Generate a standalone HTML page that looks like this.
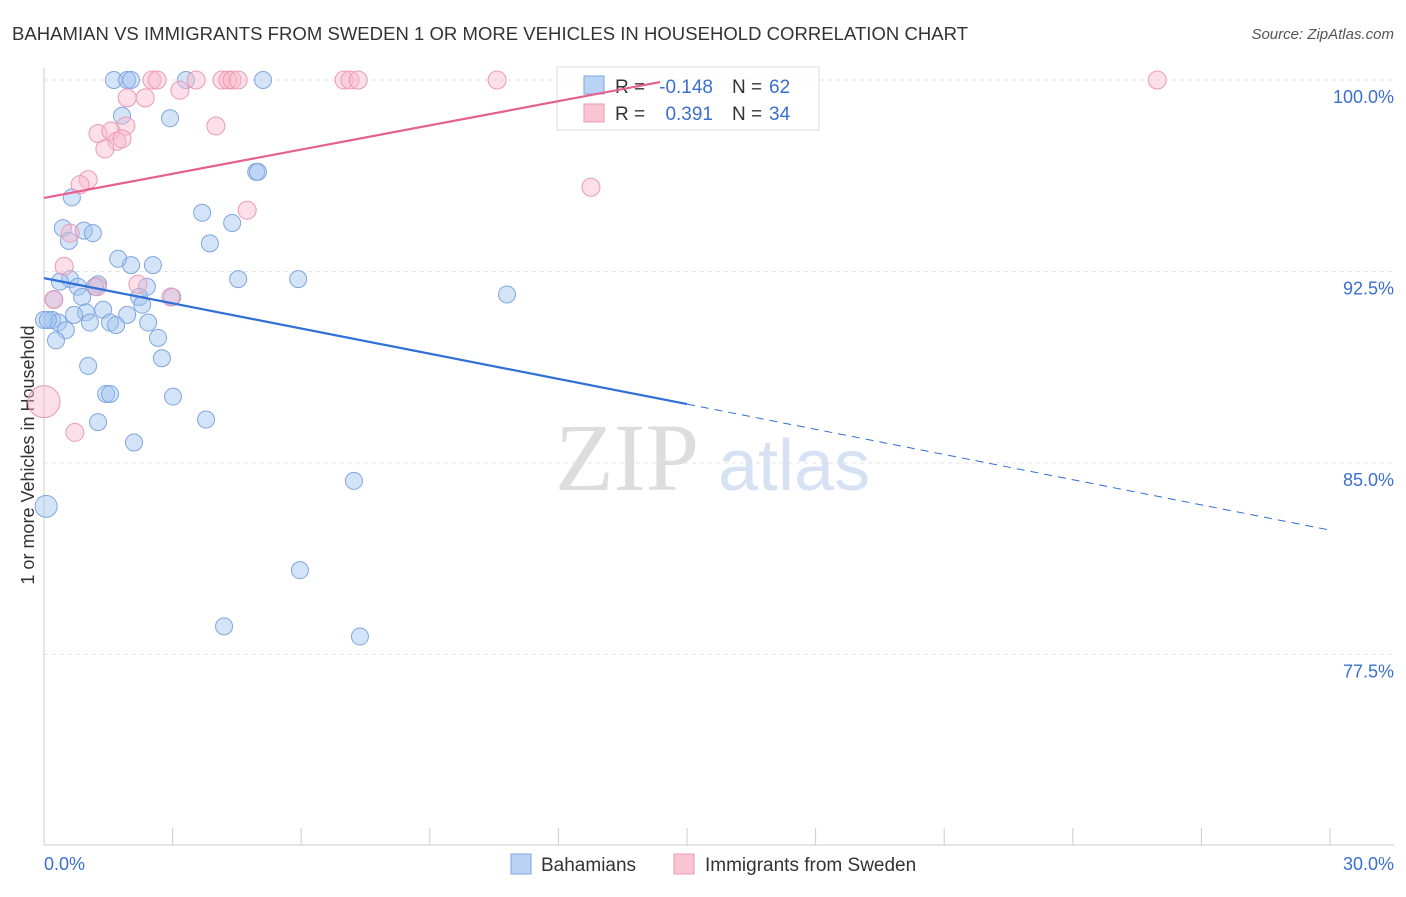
<!DOCTYPE html>
<html><head><meta charset="utf-8"><style>
body{margin:0;background:#fff;font-family:"Liberation Sans",sans-serif}
</style></head><body>
<svg id="c" width="1406" height="892" xmlns="http://www.w3.org/2000/svg">
<text x="12" y="40" font-size="18.5" fill="#333" textLength="956">BAHAMIAN VS IMMIGRANTS FROM SWEDEN 1 OR MORE VEHICLES IN HOUSEHOLD CORRELATION CHART</text>
<text x="1394" y="39" font-size="15" fill="#555" font-style="italic" text-anchor="end">Source: ZipAtlas.com</text>
<text x="555" y="490" font-size="96" fill="#ddd" font-family="Liberation Serif">ZIP</text>
<text x="718" y="490" font-size="72" fill="#d6e2f3">atlas</text>
<text transform="translate(34,455) rotate(-90)" font-size="18" fill="#333" text-anchor="middle">1 or more Vehicles in Household</text>
<g id="grid"></g>
<g>
<rect x="557" y="67" width="262" height="63" fill="#fff" fill-opacity="0.6" stroke="#ddd"/>
<rect x="584" y="76" width="20" height="18" fill="#b9d3f5" stroke="#7ea6e0"/>
<rect x="584" y="104" width="20" height="18" fill="#f9c5d3" stroke="#eb9ab2"/>
<text x="615" y="93" font-size="19" fill="#333">R =</text>
<text x="713" y="93" font-size="19" fill="#3a6fd1" text-anchor="end">-0.148</text>
<text x="732" y="93" font-size="19" fill="#333">N =</text>
<text x="769" y="93" font-size="19" fill="#3a6fd1">62</text>
<text x="615" y="120" font-size="19" fill="#333">R =</text>
<text x="713" y="120" font-size="19" fill="#3a6fd1" text-anchor="end">0.391</text>
<text x="732" y="120" font-size="19" fill="#333">N =</text>
<text x="769" y="120" font-size="19" fill="#3a6fd1">34</text>
</g>
<g id="marks"></g>
<g>
<rect x="511" y="854" width="20" height="20" fill="#b9d3f5" stroke="#7ea6e0"/>
<text x="541" y="871" font-size="19" fill="#333">Bahamians</text>
<rect x="674" y="854" width="20" height="20" fill="#f9c5d3" stroke="#eb9ab2"/>
<text x="705" y="871" font-size="19" fill="#333">Immigrants from Sweden</text>
</g>
</svg>
<script>
const yTicks=[100,92.5,85,77.5];
const xTickLabels=["0.0%","30.0%"];
const blueX=[1.63,1.94,2.03,3.31,5.11,1.82,2.94,4.95,4.99,0.65,3.69,4.39,0.44,0.93,1.14,0.58,3.87,1.73,2.03,2.54,4.53,5.93,0.61,0.37,0.79,1.26,1.19,2.40,0.89,2.22,2.99,0.23,2.29,1.38,0.98,0.70,1.94,0.19,0.33,1.07,1.54,1.68,2.43,0.51,0.28,2.66,2.75,1.03,10.80,1.45,1.54,3.01,1.26,3.78,2.10,7.23,0.05,5.97,4.20,7.37,0.0,0.09];
const blueY=[100,100,100,100,100,98.6,98.5,96.4,96.4,95.4,94.8,94.4,94.2,94.1,94.0,93.7,93.6,93.0,92.75,92.75,92.2,92.2,92.2,92.1,91.9,92.0,91.9,91.9,91.5,91.5,91.5,91.4,91.2,91.0,90.9,90.8,90.8,90.6,90.5,90.5,90.5,90.4,90.5,90.2,89.8,89.9,89.1,88.8,91.6,87.7,87.7,87.6,86.6,86.7,85.8,84.3,83.3,80.8,78.6,78.2,90.6,90.6];
const pinkX=[2.52,2.64,3.55,4.15,4.29,4.39,4.53,7.00,7.14,7.33,10.57,25.97,3.17,1.94,2.36,1.91,4.01,1.26,1.56,1.70,1.82,1.42,1.03,0.84,12.76,4.74,0.61,0.47,0.23,1.24,2.19,2.96,0.72,0.0];
const pinkY=[100,100,100,100,100,100,100,100,100,100,100,100,99.6,99.3,99.3,98.2,98.2,97.9,98.0,97.6,97.7,97.3,96.1,95.9,95.8,94.9,94.0,92.7,91.4,91.9,92.0,91.5,86.2,87.4];
const pinkR=[9,9,9,9,9,9,9,9,9,9,9,9,9,9,9,9,9,9,9,9,9,9,9,9,9,9,9,9,9,9,9,9,9,16];
const blueTrend=[92.24,82.37];
const pinkTrend=[95.38,99.92,14.37];
const X=v=>44+v/30*1286, Y=v=>80+(100-v)*25.53;
const ns="http://www.w3.org/2000/svg";
function mk(t,a,p){const e=document.createElementNS(ns,t);for(const k in a)e.setAttribute(k,a[k]);(p||document.getElementById('marks')).appendChild(e);return e;}
const g=document.getElementById('grid');
yTicks.forEach(v=>{const l=mk('line',{x1:44,x2:1394,y1:Y(v),y2:Y(v),stroke:'#e3e3e3','stroke-dasharray':'4,4'},g);

const t=mk('text',{x:1394,y:Y(v)+23,'font-size':18,fill:'#3a6fd1','text-anchor':'end'},g);t.textContent=v.toFixed(1)+'%';
});
const ax=mk('line',{x1:44,x2:1394,y1:845,y2:845,stroke:'#ccc'},g);
const ay=mk('line',{x1:44,x2:44,y1:68,y2:845,stroke:'#ccc'},g);
for(let i=0;i<=10;i++){const l=mk('line',{x1:X(i*3),x2:X(i*3),y1:828,y2:845,stroke:'#ccc'},g);}
[[0,'start',44],[30,'end',1394]].forEach((d,i)=>{const t=mk('text',{x:d[2],y:870,'font-size':18,fill:'#3a6fd1','text-anchor':d[1]},g);t.textContent=xTickLabels[i];});
blueX.forEach((x,i)=>{const c=mk('circle',{cx:X(x),cy:Y(blueY[i]),r:i==56?11:8.5,fill:'rgba(160,195,240,0.45)',stroke:'#7ea6e0','stroke-width':1});});
pinkX.forEach((x,i)=>{const c=mk('circle',{cx:X(x),cy:Y(pinkY[i]),r:pinkR[i],fill:'rgba(248,185,205,0.45)',stroke:'#eb9ab2','stroke-width':1});});
const bm=blueTrend[0]+(blueTrend[1]-blueTrend[0])*15/30;
let l=mk('line',{x1:X(0),y1:Y(blueTrend[0]),x2:X(15),y2:Y(bm),stroke:'#2f6fd6','stroke-width':2.2});
l=mk('line',{x1:X(15),y1:Y(bm),x2:X(30),y2:Y(blueTrend[1]),stroke:'#2f6fd6','stroke-width':1,'stroke-dasharray':'8,6'});
l=mk('line',{x1:X(0),y1:Y(pinkTrend[0]),x2:X(pinkTrend[2]),y2:Y(pinkTrend[1]),stroke:'#e5608c','stroke-width':2.2});
</script>
</body></html>
